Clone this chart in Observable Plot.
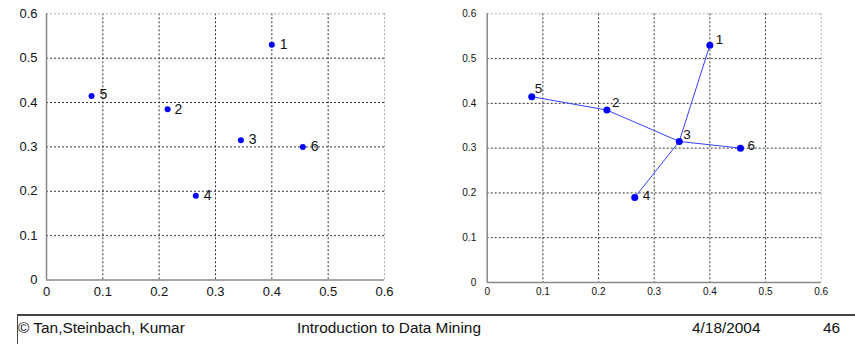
<!DOCTYPE html>
<html>
<head>
<meta charset="utf-8">
<script src="https://cdn.jsdelivr.net/npm/d3@7"></script>
<script src="https://cdn.jsdelivr.net/npm/@observablehq/plot@0.6"></script>
<style>
  html, body { margin: 0; padding: 0; background: #fff; }
  body { width: 855px; height: 344px; position: relative; overflow: hidden; font-family: "Liberation Sans", Arial, sans-serif; }
  .panel { position: absolute; top: 0; }
  #footer { position: absolute; left: 17px; top: 314px; right: 0; bottom: 0; border-top: 2px solid #444; border-left: 1px solid #444; }
  .ft { position: absolute; top: 320px; font-size: 15.4px; color: #111; white-space: nowrap; line-height: 1; }
</style>
</head>
<body>
<div id="left" class="panel" style="left:0px"></div>
<div id="right" class="panel" style="left:440px"></div>
<div id="footer"></div>
<div class="ft" style="left:18px">© Tan,Steinbach, Kumar</div>
<div class="ft" style="left:297px">Introduction to Data Mining</div>
<div class="ft" style="left:692px">4/18/2004</div>
<div class="ft" style="left:823px">46</div>
<script>
// ---- data ----
const pointIds = ["1", "2", "3", "4", "5", "6"];
const xValues = [0.40, 0.215, 0.345, 0.265, 0.08, 0.455];
const yValues = [0.53, 0.385, 0.315, 0.19, 0.415, 0.30];
const edgeFrom = ["5", "2", "3", "3", "3"];
const edgeTo   = ["2", "3", "1", "4", "6"];
const tickValues = [0, 0.1, 0.2, 0.3, 0.4, 0.5, 0.6];

const points = pointIds.map((id, i) => ({id, x: xValues[i], y: yValues[i]}));
const byId = Object.fromEntries(points.map(p => [p.id, p]));
const edges = edgeFrom.map((a, i) => ({a: byId[a], b: byId[edgeTo[i]]}));
const gridTicks = tickValues.filter(t => t > 0 && t < 0.6);

function panel(o) {
  const marks = [
    Plot.ruleX(gridTicks, {stroke: "#333", strokeDasharray: "2,2", strokeWidth: 1}),
    Plot.ruleY(gridTicks, {stroke: "#333", strokeDasharray: "2,2", strokeWidth: 1}),
    Plot.ruleX([0.6], {stroke: "#aaa", strokeDasharray: "2,2", strokeWidth: 1}),
    Plot.ruleY([0.6], {stroke: "#aaa", strokeDasharray: "2,2", strokeWidth: 1}),
    Plot.ruleX([0], {stroke: "#888", strokeWidth: 1.5}),
    Plot.ruleY([0], {stroke: "#888", strokeWidth: 1.5}),
    Plot.axisX({ticks: tickValues, tickSize: 0, tickPadding: o.padX, fontSize: o.tickFont, label: null, tickFormat: d => String(d)}),
    Plot.axisY({ticks: tickValues, tickSize: 0, tickPadding: o.padY, fontSize: o.tickFont, label: null, tickFormat: d => String(d)})
  ];
  if (o.edges) {
    marks.push(Plot.link(edges, {x1: d => d.a.x, y1: d => d.a.y, x2: d => d.b.x, y2: d => d.b.y, stroke: "#3344ff", strokeWidth: 1}));
  }
  marks.push(Plot.dot(points, {x: "x", y: "y", r: o.r, fill: "#0000ff", stroke: "none"}));
  for (const p of points) {
    const off = o.offsets[p.id];
    marks.push(Plot.text([p], {x: "x", y: "y", text: "id", dx: off[0], dy: off[1], textAnchor: "start", fontSize: o.labelFont, fill: "#111"}));
  }
  return Plot.plot({
    width: o.width, height: o.height,
    marginLeft: o.ml, marginRight: o.mr, marginTop: o.mt, marginBottom: o.mb,
    x: {domain: [0, 0.6], axis: null},
    y: {domain: [0, 0.6], axis: null},
    style: {fontFamily: "'Liberation Sans', Arial, sans-serif", color: "#111", background: "transparent", overflow: "visible"},
    marks
  });
}

const leftOffsets = {"1": [8, 0], "2": [7, 0], "3": [8, -1], "4": [8, 0], "5": [8, -1], "6": [8, 0]};
const rightOffsets = {"1": [6, -5], "2": [5, -7], "3": [4, -7], "4": [8, -2], "5": [3, -8], "6": [7, -2]};

document.getElementById("left").append(panel({
  width: 400, height: 305, ml: 46, mr: 16, mt: 13.3, mb: 25.5,
  padX: 7, padY: 9, tickFont: 13, labelFont: 14, r: 3, offsets: leftOffsets, edges: false
}));
document.getElementById("right").append(panel({
  width: 400, height: 305, ml: 46.7, mr: 19.3, mt: 13.3, mb: 23,
  padX: 5, padY: 11, tickFont: 10, labelFont: 13.5, r: 3.5, offsets: rightOffsets, edges: true
}));
</script>
</body>
</html>
